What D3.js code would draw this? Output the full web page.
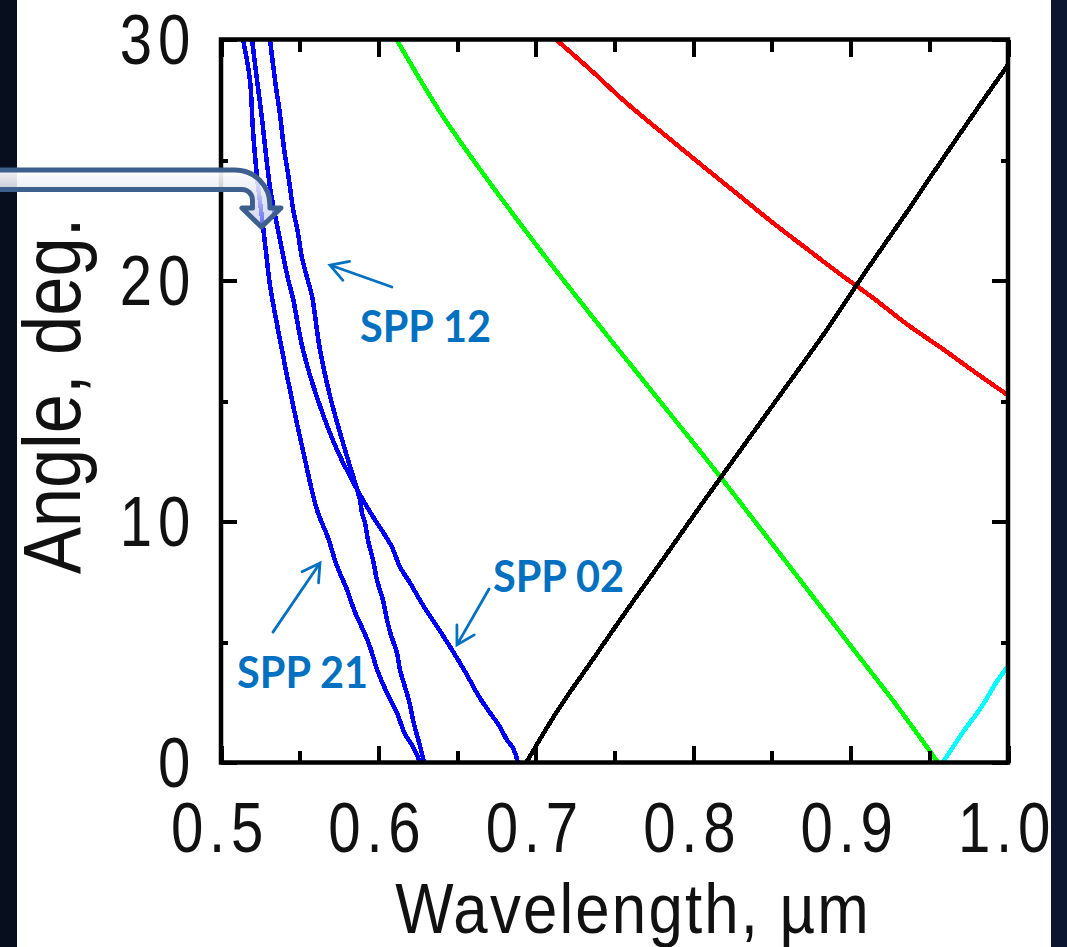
<!DOCTYPE html>
<html>
<head>
<meta charset="utf-8">
<script src="https://cdn.jsdelivr.net/npm/d3@7"></script>
<style>
  html, body { margin: 0; padding: 0; background: #ffffff; }
  svg { display: block; }
</style>
</head>
<body>
<svg id="chart" width="1067" height="947"></svg>
<script>
// ---- mode curves: wavelength (µm) vs. angle (deg.) ----
const spp21Lambda = [0.5140, 0.5184, 0.5203, 0.5229, 0.5260, 0.5286, 0.5311, 0.5375, 0.5451, 0.5527,
                     0.5610, 0.5680, 0.5737, 0.5801, 0.5851, 0.5909, 0.5947, 0.5997, 0.6055, 0.6118,
                     0.6169, 0.6213, 0.6245, 0.6264];
const spp21Angle  = [30.0, 28.32, 26.24, 24.29, 22.63, 21.18, 19.81, 17.53, 15.04, 12.76,
                     10.48, 9.32, 8.15, 7.16, 6.24, 5.41, 4.79, 3.76, 2.88, 2.05,
                     1.18, 0.73, 0.31, 0.0];

const spp02Lambda = [0.5197, 0.5229, 0.5260, 0.5286, 0.5311, 0.5343, 0.5375, 0.5400, 0.5432, 0.5457,
                     0.5521, 0.5616, 0.5737, 0.5902, 0.5959, 0.6086, 0.6137, 0.6201, 0.6264, 0.6315,
                     0.6379, 0.6436, 0.6499, 0.6563, 0.6633, 0.6696, 0.6773, 0.6817, 0.6855, 0.6887];
const spp02Angle  = [30.0, 28.32, 26.74, 25.21, 23.88, 22.72, 21.68, 20.85, 19.90, 19.27,
                     17.12, 15.04, 12.97, 10.89, 10.27, 8.94, 8.11, 7.45, 6.74, 6.20,
                     5.58, 5.00, 4.34, 3.63, 2.80, 2.18, 1.47, 0.93, 0.60, 0.0];

const spp12Lambda = [0.5311, 0.5343, 0.5375, 0.5400, 0.5432, 0.5457, 0.5489, 0.5515, 0.5553, 0.5578,
                     0.5629, 0.5699, 0.5788, 0.5883, 0.5896, 0.5915, 0.5934, 0.5966, 0.5991, 0.6029,
                     0.6055, 0.6080, 0.6118, 0.6137, 0.6169, 0.6201, 0.6220, 0.6245, 0.6271, 0.6290];
const spp12Angle  = [30.0, 28.32, 26.87, 25.50, 24.17, 23.01, 21.97, 20.93, 19.98, 19.36,
                     17.12, 15.04, 12.97, 10.89, 10.35, 9.94, 9.23, 8.40, 7.57, 6.74,
                     5.91, 5.29, 4.54, 3.84, 3.13, 2.39, 1.76, 1.14, 0.52, 0.0];

const greenLambda = [0.6115, 0.6391, 0.6603, 0.7027, 0.7485, 0.7876, 0.8185, 0.8996, 0.9282, 0.9555];
const greenAngle  = [30.0, 27.0, 25.0, 21.27, 17.46, 14.28, 11.75, 4.88, 2.46, 0.0];

const redLambda   = [0.7128, 0.7358, 0.7570, 0.7818, 0.8059, 0.8301, 0.8503, 0.8717, 0.8926,
                     0.9146, 0.9351, 0.9587, 0.9817, 1.0];
const redAngle    = [30.0, 28.68, 27.40, 26.05, 24.76, 23.48, 22.41, 21.34, 20.30,
                     19.26, 18.22, 17.15, 16.07, 15.24];

const blackLambda = [0.6940, 0.7143, 0.7365, 0.7598, 0.7832, 0.8054, 0.8514, 0.8859, 0.9059,
                     0.9369, 0.9518, 0.9828, 1.0];
const blackAngle  = [0.0, 2.20, 4.30, 6.50, 8.65, 10.72, 14.90, 18.05, 20.02,
                     22.95, 24.40, 27.35, 28.95];

const cyanLambda  = [0.9585, 0.9716, 0.9833, 0.9928, 1.0];
const cyanAngle   = [0.0, 1.28, 2.32, 3.35, 4.0];

// ---- axes ----
const xMajorTicks = [0.5, 0.6, 0.7, 0.8, 0.9, 1.0];
const xMinorTicks = [0.55, 0.65, 0.75, 0.85, 0.95];
const yMajorTicks = [0, 10, 20, 30];
const yMinorTicks = [5, 15, 25];
const xTitle = "Wavelength, µm";
const yTitle = "Angle, deg.";

// ---- mode annotations: text anchor, arrow tail and arrow head, all as (λ, θ) ----
const modeNames      = ["SPP 12", "SPP 02", "SPP 21"];
const modeTextLambda = [0.5883, 0.6728, 0.5102];
const modeTextAngle  = [17.45, 7.07, 3.09];
const modeTailLambda = [0.6086, 0.6703, 0.5330];
const modeTailAngle  = [19.73, 7.20, 5.41];
const modeHeadLambda = [0.5692, 0.6499, 0.5629];
const modeHeadAngle  = [20.64, 4.88, 8.28];

// callout arrow tip (λ, θ)
const calloutTip = [0.5257, 22.22];

// ---------------------------------------------------------------
const svg = d3.select("#chart");
const W = 1067, H = 947;
const plot = { left: 221, right: 1008, top: 39.5, bottom: 762.5 };

const x = d3.scaleLinear().domain([0.5, 1.0]).range([plot.left, plot.right]);
const y = d3.scaleLinear().domain([0, 30]).range([plot.bottom, plot.top]);

// page background with dark side bands
svg.append("rect").attr("x", 0).attr("y", 0).attr("width", W).attr("height", H).attr("fill", "#ffffff");
svg.append("rect").attr("x", 0).attr("y", 0).attr("width", 17).attr("height", H).attr("fill", "#070e1d");
svg.append("rect").attr("x", 1051).attr("y", 0).attr("width", W - 1051).attr("height", H).attr("fill", "#0c1631");

const defs = svg.append("defs");
defs.append("clipPath").attr("id", "plotClip")
  .append("rect")
  .attr("x", plot.left).attr("y", plot.top)
  .attr("width", plot.right - plot.left).attr("height", plot.bottom - plot.top);

// curves
const curves = [
  { lam: spp21Lambda, ang: spp21Angle, color: "#0000ff" },
  { lam: spp02Lambda, ang: spp02Angle, color: "#0000ff" },
  { lam: spp12Lambda, ang: spp12Angle, color: "#0000ff" },
  { lam: greenLambda, ang: greenAngle, color: "#00ff00" },
  { lam: redLambda,   ang: redAngle,   color: "#ff0000" },
  { lam: blackLambda, ang: blackAngle, color: "#000000" },
  { lam: cyanLambda,  ang: cyanAngle,  color: "#00ffff" }
];

const line = d3.line().x(d => x(d[0])).y(d => y(d[1])).curve(d3.curveCatmullRom.alpha(0.5));
const curveLayer = svg.append("g").attr("clip-path", "url(#plotClip)");
curves.forEach(c => {
  const pts = c.lam.map((l, i) => [l, c.ang[i]]);
  curveLayer.append("path")
    .datum(pts)
    .attr("d", line)
    .attr("fill", "none")
    .attr("stroke", c.color)
    .attr("stroke-width", 4.5)
    .attr("stroke-linejoin", "round")
    .attr("shape-rendering", "crispEdges");
});

// ticks on all four sides, pointing inward
const tickStroke = g => g.selectAll("line").attr("stroke", "#000").attr("stroke-width", 4).attr("shape-rendering", "crispEdges");
const noDomain = g => g.select(".domain").remove();

function addAxis(axis, tx, ty) {
  const g = svg.append("g").attr("transform", `translate(${tx},${ty})`).call(axis);
  noDomain(g); tickStroke(g);
  return g;
}

const labelFont = '"Liberation Sans", Arial, Helvetica, sans-serif';

const gxBottom = addAxis(d3.axisBottom(x).tickValues(xMajorTicks).tickSize(-17).tickFormat(d3.format(".1f")), 0, plot.bottom);
addAxis(d3.axisBottom(x).tickValues(xMinorTicks).tickSize(-12).tickFormat(""), 0, plot.bottom);
addAxis(d3.axisTop(x).tickValues(xMajorTicks).tickSize(-17).tickFormat(""), 0, plot.top);
addAxis(d3.axisTop(x).tickValues(xMinorTicks).tickSize(-12).tickFormat(""), 0, plot.top);

const gyLeft = addAxis(d3.axisLeft(y).tickValues(yMajorTicks).tickSize(-16).tickFormat(d3.format("d")), plot.left, 0);
addAxis(d3.axisLeft(y).tickValues(yMinorTicks).tickSize(-7).tickFormat(""), plot.left, 0);
addAxis(d3.axisRight(y).tickValues(yMajorTicks).tickSize(-16).tickFormat(""), plot.right, 0);
addAxis(d3.axisRight(y).tickValues(yMinorTicks).tickSize(-7).tickFormat(""), plot.right, 0);

gxBottom.selectAll("text")
  .attr("y", 0).attr("dy", null)
  .attr("transform", "translate(-1.5,89.5) scale(0.82,1)")
  .attr("text-anchor", "middle")
  .style("font-family", labelFont).style("font-size", "71px")
  .style("letter-spacing", "7px")
  .attr("fill", "#111");

gyLeft.selectAll("text")
  .attr("x", 0).attr("dy", null)
  .attr("transform", "translate(-25,24) scale(0.83,1)")
  .attr("text-anchor", "end")
  .style("font-family", labelFont).style("font-size", "70px")
  .style("letter-spacing", "7px")
  .attr("fill", "#111");

// frame
svg.append("rect")
  .attr("x", plot.left).attr("y", plot.top)
  .attr("width", plot.right - plot.left).attr("height", plot.bottom - plot.top)
  .attr("fill", "none").attr("stroke", "#000").attr("stroke-width", 4.5);

// axis titles
svg.append("text")
  .attr("transform", "translate(633,933) scale(0.87,1)")
  .attr("text-anchor", "middle")
  .style("font-family", labelFont).style("font-size", "71px")
  .style("letter-spacing", "2.5px")
  .attr("fill", "#111")
  .text(xTitle);

svg.append("text")
  .attr("transform", "translate(80,396) rotate(-90) scale(0.87,1)")
  .attr("text-anchor", "middle")
  .style("font-family", labelFont).style("font-size", "81px")
  .attr("fill", "#111")
  .text(yTitle);

// mode annotations
const annBlue = "#0070c0";
const annLayer = svg.append("g");
modeNames.forEach((name, i) => {
  annLayer.append("text")
    .attr("x", x(modeTextLambda[i])).attr("y", y(modeTextAngle[i]))
    .attr("textLength", 131).attr("lengthAdjust", "spacingAndGlyphs")
    .style("font-family", "Lato, 'Open Sans', sans-serif")
    .style("font-weight", 700).style("font-size", "43px")
    .attr("fill", annBlue)
    .text(name);

  const x1 = x(modeTailLambda[i]), y1 = y(modeTailAngle[i]);
  const x2 = x(modeHeadLambda[i]), y2 = y(modeHeadAngle[i]);
  const a = Math.atan2(y2 - y1, x2 - x1);
  const len = 20, spread = Math.PI / 6;
  const hx1 = x2 - len * Math.cos(a - spread), hy1 = y2 - len * Math.sin(a - spread);
  const hx2 = x2 - len * Math.cos(a + spread), hy2 = y2 - len * Math.sin(a + spread);
  annLayer.append("path")
    .attr("d", `M${x1},${y1}L${x2},${y2}M${hx1},${hy1}L${x2},${y2}L${hx2},${hy2}`)
    .attr("fill", "none").attr("stroke", annBlue)
    .attr("stroke-width", 2.75).attr("stroke-linecap", "round").attr("stroke-linejoin", "miter");
});

// bent callout arrow pointing at the mode crossing
const grad = defs.append("linearGradient").attr("id", "calloutFill")
  .attr("x1", 0).attr("y1", 0).attr("x2", 0).attr("y2", 1);
grad.append("stop").attr("offset", "0%").attr("stop-color", "#ffffff").attr("stop-opacity", 0.95);
grad.append("stop").attr("offset", "40%").attr("stop-color", "#e4e8f4").attr("stop-opacity", 0.85);
grad.append("stop").attr("offset", "100%").attr("stop-color", "#b4c2ea").attr("stop-opacity", 0.55);

const tx = x(calloutTip[0]), ty = y(calloutTip[1]);
const p = d3.path();
p.moveTo(-10, ty - 57);
p.lineTo(tx - 26.5, ty - 57);
p.arcTo(tx + 8.5, ty - 57, tx + 8.5, ty - 22, 35);
p.lineTo(tx + 8.5, ty - 19);
p.lineTo(tx + 19.5, ty - 19);
p.lineTo(tx, ty);
p.lineTo(tx - 19.5, ty - 19);
p.lineTo(tx - 9, ty - 19);
p.lineTo(tx - 9, ty - 27);
p.arcTo(tx - 9, ty - 37.5, tx - 19.5, ty - 37.5, 10.5);
p.lineTo(-10, ty - 37.5);
p.closePath();

svg.append("path")
  .attr("d", p.toString())
  .attr("fill", "url(#calloutFill)")
  .attr("stroke", "#3d5f8e")
  .attr("stroke-width", 5)
  .attr("stroke-linejoin", "round");
</script>
</body>
</html>
